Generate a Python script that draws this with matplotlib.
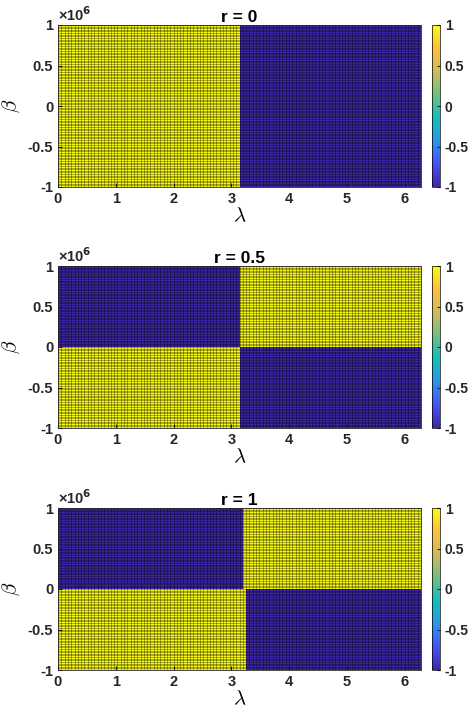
import matplotlib as mpl
mpl.use("Agg")
import matplotlib.pyplot as plt
import numpy as np
from matplotlib.colors import LinearSegmentedColormap
import matplotlib.ticker as plticker

plt.rcParams["font.family"] = ["Liberation Sans", "DejaVu Sans"]
plt.rcParams["font.weight"] = "bold"
plt.rcParams["mathtext.fontset"] = "cm"

# panel data: sign of the result in each quadrant of the (lambda, beta) plane
r_values = [0, 0.5, 1]
upper_left = [1, -1, -1]
upper_right = [-1, 1, 1]
lower_left = [1, 1, 1]
lower_right = [-1, -1, -1]
split_upper = [3.12, 3.12, 3.15]
split_lower = [3.12, 3.14, 3.2]

lam = np.linspace(0, 2 * np.pi, 111)
beta = np.linspace(-1e6, 1e6, 101)

# parula-like colormap
parula = LinearSegmentedColormap.from_list("parula", [
    (0.2422, 0.1504, 0.6603), (0.2810, 0.3228, 0.9579), (0.1540, 0.5902, 0.9218),
    (0.0704, 0.7457, 0.7258), (0.4420, 0.7481, 0.5033), (0.8185, 0.7327, 0.3498),
    (0.9934, 0.7453, 0.2447), (0.9769, 0.9839, 0.0805)])

fig = plt.figure(figsize=(4.71, 7.2), dpi=100)
tops = [25, 266, 508]
for i, r in enumerate(r_values):
    L, B = np.meshgrid(lam, beta)
    Z = np.where(B >= 0,
                 np.where(L < split_upper[i], upper_left[i], upper_right[i]),
                 np.where(L < split_lower[i], lower_left[i], lower_right[i]))
    ax = fig.add_axes([58 / 471, 1 - (tops[i] + 162) / 720, 363 / 471, 162 / 720])
    m = ax.pcolormesh(L, B, Z[:-1, :-1], cmap=parula, vmin=-1, vmax=1,
                      edgecolors="none", shading="flat", antialiased=False)
    # mesh edges like matlab surf
    ax.vlines(lam, -1e6, 1e6, color="k", lw=0.5, alpha=0.45)
    ax.hlines(beta, 0, 2 * np.pi, color="k", lw=0.5, alpha=0.45)
    ax.set_xlim(0, 2 * np.pi)
    ax.set_ylim(-1e6, 1e6)
    ax.set_xticks([0, 1, 2, 3, 4, 5, 6])
    ax.set_yticks([-1e6, -0.5e6, 0, 0.5e6, 1e6])
    ax.yaxis.set_major_formatter(plticker.FuncFormatter(lambda v, p: "%g" % (v / 1e6)))
    ax.text(0.0, 1.005, r"×10$^{6}$", transform=ax.transAxes, fontsize=10.5,
            ha="left", va="bottom", color="0.15", math_fontfamily="dejavusans")
    ax.tick_params(direction="in", labelsize=10.5, length=3, colors="0.15")
    for s in ax.spines.values():
        s.set_color("0.15")
        s.set_linewidth(0.6)
    ax.set_title("r = " + str(r), fontsize=12.5, fontweight="bold", pad=1)
    ax.set_xlabel(r"$\lambda$", fontsize=15, labelpad=0)
    ax.set_ylabel(r"$\beta$", fontsize=15, labelpad=4)
    cax = fig.add_axes([432 / 471, 1 - (tops[i] + 162) / 720, 8 / 471, 162 / 720])
    cb = fig.colorbar(m, cax=cax, ticks=[-1, -0.5, 0, 0.5, 1])
    cb.ax.set_yticklabels(["-1", "-0.5", "0", "0.5", "1"])
    cb.ax.tick_params(direction="in", labelsize=10, length=2, colors="0.15")
    cb.outline.set_linewidth(0.5)

plt.savefig("out.png", dpi=100)
